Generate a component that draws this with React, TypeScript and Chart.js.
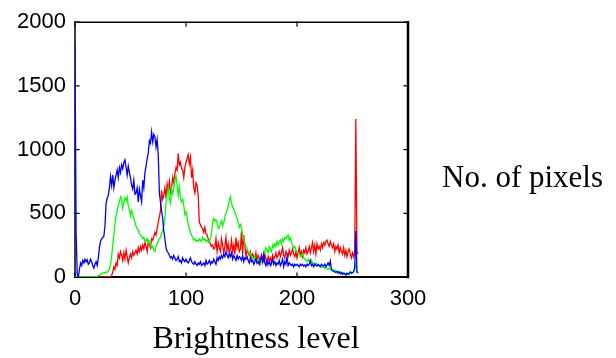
import { useEffect, useRef } from "react";
import { Chart, registerables } from "chart.js";

Chart.register(...registerables);

// Brightness levels 0..255 (categories of the histogram)
const LEVELS: number[] = Array.from({ length: 256 }, (_, i) => i);

const X_TICKS = [0, 100, 200, 300];
const Y_TICKS = [0, 500, 1000, 1500, 2000];

const RED: number[] = [
  0, 0, 0, 0, 0, 0, 0, 0, 0, 0,
  0, 0, 0, 0, 0, 0, 0, 0, 0, 0,
  0, 0, 0, 0, 0, 0, 0, 0, 0, 0,
  0, 0, 0, 10, 40, 80, 60, 110, 90, 180,
  150, 200, 170, 130, 190, 140, 210, 160, 110, 150,
  180, 150, 200, 170, 190, 210, 180, 230, 200, 240,
  210, 250, 220, 270, 240, 200, 280, 250, 230, 300,
  290, 320, 350, 330, 380, 430, 470, 520, 680, 610,
  640, 700, 620, 730, 680, 750, 660, 700, 780, 740,
  810, 860, 840, 970, 880, 900, 850, 840, 780, 860,
  900, 930, 960, 890, 940, 780, 840, 700, 660, 740,
  720, 640, 430, 410, 390, 380, 350, 390, 340, 330,
  300, 280, 260, 240, 250, 220, 230, 300, 200, 270,
  230, 200, 300, 250, 190, 240, 310, 210, 260, 180,
  220, 290, 200, 250, 180, 310, 230, 270, 200, 220,
  360, 180, 330, 250, 160, 210, 190, 170, 200, 150,
  180, 160, 140, 190, 120, 170, 150, 110, 160, 130,
  120, 180, 140, 100, 160, 130, 150, 110, 170, 140,
  160, 190, 150, 170, 200, 160, 190, 230, 170, 150,
  200, 180, 160, 210, 170, 190, 220, 180, 160, 200,
  150, 190, 230, 170, 200, 160, 210, 190, 230, 180,
  200, 240, 190, 230, 270, 200, 250, 180, 260, 220,
  240, 210, 260, 230, 270, 250, 280, 290, 260, 240,
  280, 250, 230, 260, 200, 240, 220, 250, 190, 230,
  200, 180, 230, 170, 210, 160, 200, 220, 180, 150,
  190, 160, 200, 1240, 200, 180,
];

const GREEN: number[] = [
  0, 0, 0, 0, 0, 0, 0, 0, 0, 0,
  0, 0, 0, 0, 0, 0, 0, 0, 0, 0,
  5, 10, 15, 20, 25, 30, 35, 30, 40, 35,
  50, 60, 100, 160, 250, 330, 420, 480, 520, 560,
  590, 630, 610, 540, 590, 620, 600, 630, 560, 530,
  480, 520, 490, 460, 430, 400, 380, 370, 340, 330,
  320, 300, 310, 290, 280, 300, 270, 280, 250, 230,
  240, 210, 200, 240, 260, 280, 300, 310, 340, 370,
  400, 470, 580, 650, 700, 620, 580, 690, 650, 700,
  760, 790, 720, 640, 710, 620, 590, 610, 560, 490,
  510, 470, 410, 380, 350, 330, 310, 290, 300, 280,
  290, 280, 300, 290, 280, 310, 290, 300, 280, 290,
  270, 280, 300, 340, 430, 460, 440, 450, 430, 380,
  390, 420, 440, 400, 430, 470, 500, 520, 560, 600,
  630, 580, 550, 530, 510, 480, 460, 430, 390, 410,
  380, 330, 300, 260, 240, 220, 200, 180, 190, 160,
  150, 140, 160, 130, 120, 140, 110, 100, 130, 150,
  180, 200, 230, 210, 190, 240, 220, 200, 250, 230,
  260, 240, 280, 250, 270, 290, 260, 300, 280, 310,
  300, 320, 330, 290, 310, 270, 250, 230, 240, 210,
  200, 190, 180, 170, 160, 180, 150, 140, 130, 120,
  140, 120, 110, 130, 115, 105, 100, 110, 95, 90,
  85, 90, 80, 75, 80, 70, 75, 65, 60, 70,
  60, 55, 60, 50, 55, 45, 40, 45, 35, 40,
  30, 35, 25, 30, 20, 25, 30, 20, 30, 35,
  30, 40, 60, 100, 40, 30,
];

const BLUE: number[] = [
  1830, 350, 20, 0, 60, 110, 90, 130, 110, 140,
  120, 135, 100, 110, 140, 120, 90, 70, 100, 120,
  90, 150, 230, 280, 300, 310, 320, 400, 580, 620,
  640, 700, 790, 720, 800, 700, 760, 800, 840, 780,
  860, 820, 880, 850, 900, 920, 860, 800, 870, 820,
  780, 720, 690, 760, 650, 660, 700, 590, 690, 640,
  590, 760, 700, 820, 870, 930, 970, 1070, 1050, 1140,
  1060, 1120, 1100, 1020, 1080, 960, 660, 590, 520, 460,
  360, 300, 230, 200, 190, 170, 150, 160, 140, 170,
  150, 130, 140, 160, 120, 130, 110, 150, 130, 120,
  140, 120, 110, 130, 150, 120, 110, 100, 120, 100,
  90, 110, 100, 120, 90, 100, 110, 90, 130, 100,
  110, 130, 100, 120, 110, 140, 120, 100, 150, 130,
  160, 140, 170, 150, 180, 160, 200, 170, 150, 180,
  160, 190, 140, 170, 150, 130, 170, 140, 160, 150,
  130, 170, 120, 150, 140, 160, 130, 110, 150, 120,
  130, 100, 120, 140, 110, 120, 100, 130, 170, 120,
  180, 110, 90, 130, 100, 120, 90, 110, 140, 100,
  120, 90, 110, 100, 130, 90, 110, 140, 80, 120,
  100, 160, 90, 110, 100, 90, 100, 80, 100, 90,
  100, 90, 80, 100, 90, 100, 85, 95, 80, 100,
  90, 100, 130, 90, 100, 80, 100, 90, 85, 100,
  90, 80, 100, 90, 85, 100, 80, 95, 110, 90,
  125, 60, 50, 45, 40, 35, 45, 30, 40, 25,
  35, 20, 30, 25, 15, 30, 20, 25, 40, 30,
  35, 40, 80, 360, 40, 30,
];

const X_TITLE = "Brightness level";
const Y_TITLE = "No. of pixels";

const toPoints = (arr: number[]) => arr.map((v, i) => ({ x: LEVELS[i], y: v }));

const boxPlugin = {
  id: "matlabBox",
  beforeDatasetsDraw(chart: any) {
    const { ctx, chartArea } = chart;
    const { left, right, top, bottom } = chartArea;
    const xs = chart.scales.x;
    const ys = chart.scales.y;
    ctx.save();
    ctx.strokeStyle = "#000";
    ctx.lineCap = "square";
    ctx.lineWidth = 1.5;
    ctx.beginPath();
    ctx.moveTo(left, top);
    ctx.lineTo(right, top);
    ctx.stroke();
    ctx.beginPath();
    ctx.moveTo(left, top);
    ctx.lineTo(left, bottom);
    ctx.stroke();
    ctx.lineWidth = 2;
    ctx.beginPath();
    ctx.moveTo(left, bottom);
    ctx.lineTo(right, bottom);
    ctx.stroke();
    ctx.lineWidth = 2.5;
    ctx.beginPath();
    ctx.moveTo(right, top);
    ctx.lineTo(right, bottom);
    ctx.stroke();
    ctx.lineWidth = 1.2;
    const tl = 4;
    ctx.beginPath();
    for (const v of X_TICKS) {
      const px = xs.getPixelForValue(v);
      ctx.moveTo(px, bottom);
      ctx.lineTo(px, bottom - tl);
      ctx.moveTo(px, top);
      ctx.lineTo(px, top + tl);
    }
    for (const v of Y_TICKS) {
      const py = ys.getPixelForValue(v);
      ctx.moveTo(left, py);
      ctx.lineTo(left + tl, py);
      ctx.moveTo(right, py);
      ctx.lineTo(right - tl, py);
    }
    ctx.stroke();
    ctx.restore();
  },
  afterDraw(chart: any) {
    const { ctx, chartArea } = chart;
    ctx.save();
    ctx.fillStyle = "#000";
    ctx.textBaseline = "alphabetic";
    ctx.font = "32px 'Liberation Serif'";
    ctx.textAlign = "center";
    ctx.fillText(X_TITLE, chartArea.left + 181, 348);
    ctx.textAlign = "left";
    ctx.font = "31px 'Liberation Serif'";
    ctx.fillText(Y_TITLE, chartArea.right + 34, 187);
    ctx.restore();
  },
};

export default function App() {
  const ref = useRef<HTMLCanvasElement | null>(null);
  useEffect(() => {
    if (!ref.current) return;
    const chart = new Chart(ref.current, {
      type: "line",
      data: {
        datasets: [
          { label: "B", data: toPoints(BLUE), borderColor: "#0000ff", order: 0 },
          { label: "G", data: toPoints(GREEN), borderColor: "#00ff00", order: 1 },
          { label: "R", data: toPoints(RED), borderColor: "#ff0000", order: 2 },
        ].map((d) => ({ ...d, borderWidth: 1.3, pointRadius: 0, tension: 0, fill: false })),
      },
      options: {
        responsive: false,
        animation: false,
        devicePixelRatio: 1,
        layout: { padding: { left: 0, right: 208, top: 15, bottom: 0 } },
        plugins: { legend: { display: false }, tooltip: { enabled: false } },
        scales: {
          x: {
            type: "linear",
            min: 0,
            max: 300,
            afterFit: (s: any) => { s.height = 81; },
            afterBuildTicks: (s: any) => { s.ticks = X_TICKS.map((v) => ({ value: v })); },
            grid: { display: false, drawTicks: false },
            border: { display: false },
            ticks: {
              padding: 9,
              color: "#000",
              font: { family: "'Liberation Sans'", size: 22 },
              maxRotation: 0,
              callback: (v: any) => String(v),
            },
          },
          y: {
            type: "linear",
            min: 0,
            max: 2000,
            afterFit: (s: any) => { s.width = 75; },
            afterBuildTicks: (s: any) => { s.ticks = Y_TICKS.map((v) => ({ value: v })); },
            grid: { display: false, drawTicks: false },
            border: { display: false },
            ticks: {
              padding: 9,
              color: "#000",
              font: { family: "'Liberation Sans'", size: 22 },
              callback: (v: any) => String(v),
            },
          },
        },
      },
      plugins: [boxPlugin],
    });
    return () => chart.destroy();
  }, []);
  return (
    <div style={{ position: "absolute", left: 0, top: 0, width: 616, height: 358, background: "#fff" }}>
      <canvas ref={ref} width={616} height={358} />
    </div>
  );
}
